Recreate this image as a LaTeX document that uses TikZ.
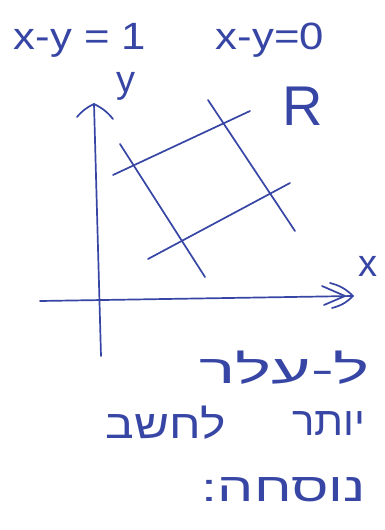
\documentclass[tikz,border=0pt]{standalone}
\usepackage{fontspec}
\setmainfont{Liberation Sans}
\newfontfamily\hebfont[Script=Hebrew]{Liberation Sans}
\TeXXeTstate=1
\definecolor{ink}{RGB}{55,70,165}
\begin{document}
\begin{tikzpicture}[x=1pt,y=-1pt,
  pen/.style={draw=ink, line width=1.7pt, line cap=round, line join=round},
  lbl/.style={text=ink, font=\fontsize{38}{44}\selectfont, inner sep=0pt},
  heb/.style={text=ink, font=\hebfont\fontsize{40}{46}\selectfont, inner sep=0pt}]
\useasboundingbox[fill=white] (0,0) rectangle (385,530);
% equations
\node[lbl] (eq1) at (80,40) {\scalebox{1.15}[1]{x-y = 1}};
\node[lbl] (eq0) at (270,40) {\scalebox{1.15}[1]{x-y=0}};
% axes
\coordinate (ytop) at (94,104);
\coordinate (ybot) at (101,356);
\coordinate (ya1) at (77,117);
\coordinate (ya2) at (113,119);
\coordinate (xl) at (40,301);
\coordinate (xr) at (353,296);
\coordinate (xa1) at (330,283);
\coordinate (xa2) at (332,308);
\coordinate (xb1) at (322,286);
\coordinate (xb2) at (345,296);
\coordinate (xb3) at (324,305);
\draw[pen] (ybot) -- (ytop);
\draw[pen] (ya1) to[bend left=12] (ytop) to[bend left=12] (ya2);
\draw[pen] (xl) -- (xr);
\draw[pen] (xa1) to[bend left=15] (xr) to[bend left=15] (xa2);
\draw[pen] (xb1) -- (xb2) -- (xb3);
\node[lbl] (ylab) at (126,86) {y};
\node[lbl] (xlab) at (368,266) {x};
\node[lbl, font=\fontsize{56}{60}\selectfont] (rlab) at (303,106) {R};
% region R
\coordinate (a1) at (113,175);
\coordinate (a2) at (250,111);
\coordinate (b1) at (148,259);
\coordinate (b2) at (290,183);
\coordinate (c1) at (120,144);
\coordinate (c2) at (205,277);
\coordinate (d1) at (208,100);
\coordinate (d2) at (295,231);
\draw[pen] (a1) -- (a2);
\draw[pen] (b1) -- (b2);
\draw[pen] (c1) -- (c2);
\draw[pen] (d1) -- (d2);
% hebrew notes
\node[heb, anchor=east] (h1) at (370,368) {\scalebox{1.7}[1]{\beginR ל-עלר\endR}};
\node[heb, anchor=east] (h2a) at (366,424) {\scalebox{1.05}[1]{\beginR יותר\endR}};
\node[heb, anchor=east] (h2b) at (226,423) {\scalebox{1.2}[1]{\beginR לחשב\endR}};
\node[heb, anchor=east] (h3) at (366,490) {\scalebox{1.43}[1]{\beginR נוסחה:\endR}};
\end{tikzpicture}
\end{document}
